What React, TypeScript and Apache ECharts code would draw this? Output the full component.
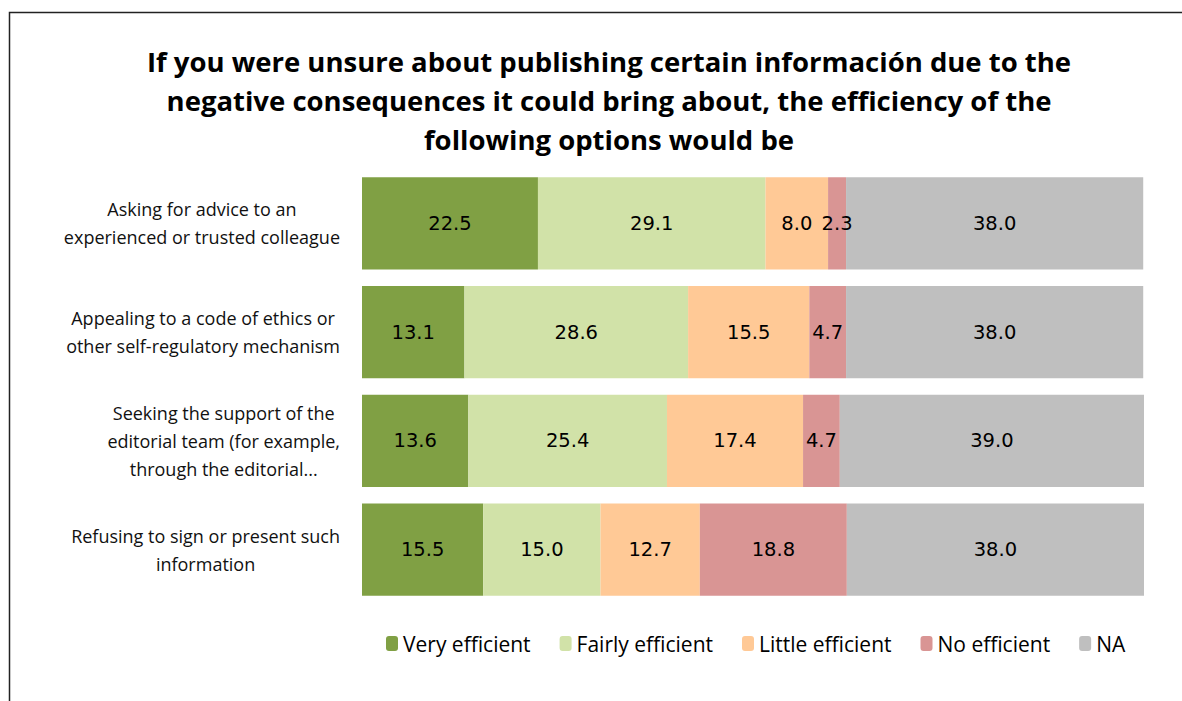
import React, { useEffect, useRef } from "react";
import * as echarts from "echarts";

const categories = [
  "Asking for advice to an\nexperienced or trusted colleague",
  "Appealing to a code of ethics or\nother self-regulatory mechanism",
  "Seeking the support of the\neditorial team (for example,\nthrough the editorial...",
  "Refusing to sign or present such\ninformation",
];
const seriesNames = ["Very efficient", "Fairly efficient", "Little efficient", "No efficient", "NA"];
const veryEfficient = [22.5, 13.1, 13.6, 15.5];
const fairlyEfficient = [29.1, 28.6, 25.4, 15.0];
const littleEfficient = [8.0, 15.5, 17.4, 12.7];
const noEfficient = [2.3, 4.7, 4.7, 18.8];
const na = [38.0, 38.0, 39.0, 38.0];
const colors = ["#80A044", "#D1E2A8", "#FFC996", "#D99594", "#BFBFBF"];
const titleText =
  "If you were unsure about publishing certain información due to the\nnegative consequences it could bring about, the efficiency of the\nfollowing options would be";

export default function App() {
  const ref = useRef<HTMLDivElement>(null);
  useEffect(() => {
    document.body.style.margin = "0";
    const chart = echarts.init(ref.current!, null, { renderer: "svg" });
    const font = "'Open Sans', Lato, sans-serif";
    const numFont = "'DejaVu Sans', sans-serif";
    const values = [veryEfficient, fairlyEfficient, littleEfficient, noEfficient, na];
    chart.setOption({
      animation: false,
      textStyle: { fontFamily: font },
      title: {
        text: titleText,
        left: 609,
        textAlign: "center",
        top: 42,
        padding: 0,
        textStyle: { fontSize: 27.5, fontWeight: "bold", lineHeight: 39, color: "#000", fontFamily: font },
      },
      graphic: [
        {
          type: "rect",
          shape: { x: 9.5, y: 12.5, width: 1300, height: 800 },
          style: { fill: "none", stroke: "#222", lineWidth: 1.5 },
          silent: true,
        },
      ],
      legend: {
        left: 381,
        top: 628,
        itemWidth: 12,
        itemHeight: 15,
        itemGap: 29,
        textStyle: { fontSize: 21, color: "#000", fontFamily: font },
        data: seriesNames,
      },
      grid: { left: 362, right: 38, top: 169, bottom: 97, containLabel: false },
      xAxis: { type: "value", min: 0, max: 100, show: false },
      yAxis: {
        type: "category",
        inverse: true,
        data: categories,
        axisLine: { show: false },
        axisTick: { show: false },
        axisLabel: {
          margin: 22,
          align: "right",
          formatter: (v: string) => v.split("\n").map((l) => `{c|${l}}`).join("\n"),
          rich: { c: { align: "center", fontSize: 18, lineHeight: 28, color: "#111", fontFamily: font } },
        },
      },
      series: seriesNames.map((name, i) => ({
        name,
        type: "bar",
        stack: "total",
        barCategoryGap: "15%",
        itemStyle: { color: colors[i] },
        label: {
          show: true,
          position: "inside",
          color: "#000",
          fontSize: 19.5,
          fontFamily: numFont,
          formatter: (p: any) => Number(p.value).toFixed(1),
        },
        data: values[i],
      })),
    });
    return () => chart.dispose();
  }, []);
  return <div ref={ref} style={{ width: 1182, height: 701 }} />;
}
